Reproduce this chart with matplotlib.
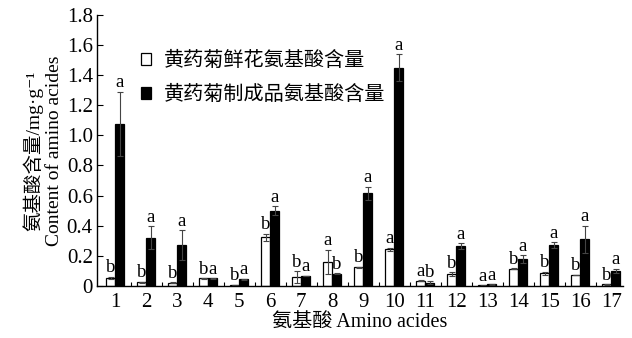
import numpy as np
import matplotlib
matplotlib.use('Agg')
import matplotlib.pyplot as plt
from matplotlib.ticker import FixedLocator

plt.rcParams['font.family'] = ['Liberation Serif', 'Noto Sans CJK SC', 'DejaVu Serif']

# amino acid index 1..17
groups = list(range(1, 18))

# fresh flowers (white) and processed product (black), mg/g
fresh = [0.055, 0.025, 0.022, 0.05, 0.005, 0.323, 0.058, 0.16, 0.124, 0.243,
         0.035, 0.08, 0.003, 0.115, 0.084, 0.073, 0.01]
fresh_err = [0.006, 0.004, 0.003, 0.003, 0.002, 0.025, 0.04, 0.08, 0.003, 0.012,
             0.003, 0.012, 0.002, 0.003, 0.01, 0.003, 0.002]
product = [1.076, 0.32, 0.27, 0.05, 0.045, 0.50, 0.066, 0.08, 0.615, 1.45,
           0.022, 0.265, 0.01, 0.18, 0.272, 0.31, 0.10]
product_err = [0.215, 0.075, 0.10, 0.003, 0.003, 0.03, 0.003, 0.003, 0.045, 0.09,
               0.01, 0.02, 0.003, 0.025, 0.02, 0.09, 0.015]

fresh_sig = ['b', 'b', 'b', 'b', 'b', 'b', 'b', 'a', 'b', 'a',
             'a', 'b', 'a', 'b', 'b', 'b', 'b']
product_sig = ['a', 'a', 'a', 'a', 'a', 'a', 'a', 'b', 'a', 'a',
               'b', 'a', 'a', 'a', 'a', 'a', 'a']

labels = ['黄药菊鲜花氨基酸含量', '黄药菊制成品氨基酸含量']

fig = plt.figure(figsize=(6.32, 3.38), dpi=100)
ax = fig.add_axes([0.1535, 0.154, 0.832, 0.802])

x = np.array(groups)
w = 0.29
ekw = dict(ecolor='#444444', elinewidth=0.8, capsize=2.5, capthick=0.8)
ax.bar(x - w / 2, fresh, w, yerr=fresh_err, color='white', edgecolor='black',
       linewidth=0.9, error_kw=ekw, label=labels[0])
ax.bar(x + w / 2, product, w, yerr=product_err, color='black', edgecolor='black',
       linewidth=0.9, error_kw=ekw, label=labels[1])

# significance letters
for i in range(len(groups)):
    top_w = fresh[i] + fresh_err[i]
    top_b = product[i] + product_err[i]
    ax.text(x[i] - w / 2, top_w + 0.003, fresh_sig[i], ha='center', va='bottom', fontsize=13.5)
    ax.text(x[i] + w / 2, top_b + 0.003, product_sig[i], ha='center', va='bottom', fontsize=13.5)

ax.set_xlim(0.42, 17.37)
ax.set_ylim(0, 1.8)
ax.set_yticks(np.arange(0, 1.81, 0.2))
ax.set_yticklabels(['0'] + ['%.1f' % v for v in np.arange(0.2, 1.81, 0.2)])
ax.set_xticks(groups)
ax.xaxis.set_minor_locator(FixedLocator(np.arange(1.5, 17.0, 1.0)))
ax.tick_params(axis='x', which='major', length=0, pad=5, labelsize=15)
ax.tick_params(axis='x', which='minor', direction='in', length=3, width=0.8)
ax.tick_params(axis='y', direction='in', length=4, width=0.8, labelsize=15, pad=3)

for s in ['top', 'right']:
    ax.spines[s].set_visible(False)
for s in ['left', 'bottom']:
    ax.spines[s].set_linewidth(1.0)

ax.set_xlabel('氨基酸 Amino acides', fontsize=14.5, labelpad=1)
ax.set_ylabel('氨基酸含量/mg·g⁻¹\nContent of amino acides', fontsize=14,
              labelpad=3, linespacing=1.2)

ax.legend(loc='upper left', bbox_to_anchor=(0.065, 0.9), frameon=False,
          fontsize=14.5, handlelength=0.5, handleheight=0.5, handletextpad=0.6,
          labelspacing=0.75, borderpad=0)

fig.savefig('out.png', dpi=100)
